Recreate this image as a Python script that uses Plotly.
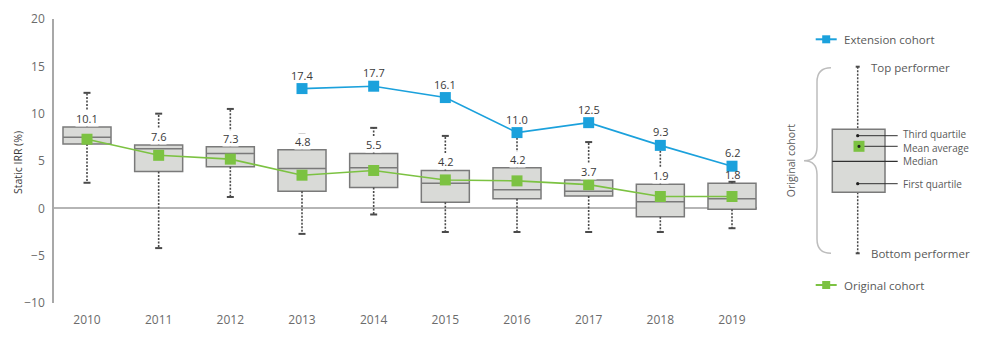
import plotly.graph_objects as go

# ---------------- data ----------------
years = [2010, 2011, 2012, 2013, 2014, 2015, 2016, 2017, 2018, 2019]
top_performer = [12.2, 10.0, 10.5, 7.8, 8.5, 7.65, 7.9, 7.0, 6.5, 2.8]
third_quartile = [8.6, 6.7, 6.5, 6.2, 5.8, 4.0, 4.3, 3.0, 2.55, 2.65]
median = [7.5, 6.3, 5.8, 4.2, 4.3, 2.65, 1.95, 1.8, 0.7, 1.0]
first_quartile = [6.8, 3.9, 4.4, 1.8, 2.2, 0.65, 1.0, 1.3, -0.9, -0.1]
bottom_performer = [2.7, -4.2, 1.2, -2.7, -0.65, -2.5, -2.5, -2.5, -2.5, -2.1]
original_mean = [7.3, 5.6, 5.2, 3.5, 4.0, 3.0, 2.9, 2.5, 1.25, 1.25]
box_labels = ["10.1", "7.6", "7.3", "4.8", "5.5", "4.2", "4.2", "3.7", "1.9", "1.8"]

ext_years = [2013, 2014, 2015, 2016, 2017, 2018, 2019]
ext_values = [12.65, 12.9, 11.7, 8.0, 9.05, 6.65, 4.45]
ext_labels = ["17.4", "17.7", "16.1", "11.0", "12.5", "9.3", "6.2"]

y_ticks = [-10, -5, 0, 5, 10, 15, 20]

# ---------------- styling ----------------
W, H = 993, 351
FONT = "Open Sans"
BLUE = "#1ba1dc"
GREEN = "#7cc242"
BOX_FILL = "#d9dad7"
BOX_LINE = "#7a7a7a"
WHISK = "#4a4a4a"
TXT = "#595959"
LBL = "#3a3a3a"


def X(px):
    return px / W


def Y(py):
    return 1 - py / H


fig = go.Figure()

# boxes (quartiles + median)
fig.add_trace(go.Box(
    x=years, q1=first_quartile, median=median, q3=third_quartile,
    lowerfence=first_quartile, upperfence=third_quartile,
    width=0.67, whiskerwidth=0,
    fillcolor=BOX_FILL, line=dict(color=BOX_LINE, width=1.5),
    boxpoints=False, showlegend=False, hoverinfo="skip",
))

# whiskers (dashed)
wx, wy = [], []
for yr, q1v, q3v, lo, hi in zip(years, first_quartile, third_quartile,
                                bottom_performer, top_performer):
    wx += [yr, yr, None, yr, yr, None]
    wy += [q3v, hi, None, q1v, lo, None]
fig.add_trace(go.Scatter(
    x=wx, y=wy, mode="lines",
    line=dict(color=WHISK, width=1.6, dash="2px,1.5px"),
    showlegend=False, hoverinfo="skip",
))
# whisker caps
fig.add_trace(go.Scatter(
    x=years + years, y=top_performer + bottom_performer, mode="markers",
    marker=dict(symbol="line-ew", size=5, line=dict(color=WHISK, width=2)),
    showlegend=False, hoverinfo="skip",
))

# original cohort mean
fig.add_trace(go.Scatter(
    x=years, y=original_mean, mode="lines+markers", name="Original cohort",
    line=dict(color=GREEN, width=1.6),
    marker=dict(symbol="square", size=11, color=GREEN),
    showlegend=False,
))
# extension cohort
fig.add_trace(go.Scatter(
    x=ext_years, y=ext_values, mode="lines+markers", name="Extension cohort",
    line=dict(color=BLUE, width=1.6),
    marker=dict(symbol="square", size=11, color=BLUE),
    showlegend=False,
))

annotations = []
ext_map = dict(zip(ext_years, ext_values))
for yr, q3v, lab in zip(years, third_quartile, box_labels):
    near_marker = yr in ext_map and ext_map[yr] - q3v < 2.5
    annotations.append(dict(
        x=yr, y=q3v, xref="x", yref="y", text=lab, showarrow=False,
        yanchor="bottom", yshift=0,
        bgcolor="rgba(0,0,0,0)" if near_marker else "white", borderpad=0,
        font=dict(family=FONT, size=11, color=LBL),
    ))
for yr, v, lab in zip(ext_years, ext_values, ext_labels):
    annotations.append(dict(
        x=yr, y=v, xref="x", yref="y", text=lab, showarrow=False,
        yanchor="bottom", yshift=5, borderpad=0,
        font=dict(family=FONT, size=11, color=LBL),
    ))

# y axis title
annotations.append(dict(
    x=X(18), y=Y(163), xref="paper", yref="paper", text="Static IRR (%)",
    textangle=-90, showarrow=False, xanchor="center", yanchor="middle",
    font=dict(family=FONT, size=10.5, color=LBL),
))

# ---------------- legend / key (right side) ----------------
shapes = []
# Extension cohort legend item
shapes.append(dict(type="line", xref="paper", yref="paper",
                   x0=X(815.7), x1=X(836.7), y0=Y(39.3), y1=Y(39.3),
                   line=dict(color=BLUE, width=2)))
shapes.append(dict(type="rect", xref="paper", yref="paper",
                   x0=X(822.2), x1=X(830.2), y0=Y(43.3), y1=Y(35.3),
                   fillcolor=BLUE, line=dict(width=0)))
annotations.append(dict(x=X(842), y=Y(39.3), xref="paper", yref="paper",
                        text="Extension cohort", showarrow=False,
                        xanchor="left", yanchor="middle",
                        font=dict(family=FONT, size=11.5, color=TXT)))
# Original cohort legend item
shapes.append(dict(type="line", xref="paper", yref="paper",
                   x0=X(815.7), x1=X(836.7), y0=Y(285), y1=Y(285),
                   line=dict(color=GREEN, width=2)))
shapes.append(dict(type="rect", xref="paper", yref="paper",
                   x0=X(822.2), x1=X(830.2), y0=Y(289), y1=Y(281),
                   fillcolor=GREEN, line=dict(width=0)))
annotations.append(dict(x=X(842), y=Y(285), xref="paper", yref="paper",
                        text="Original cohort", showarrow=False,
                        xanchor="left", yanchor="middle",
                        font=dict(family=FONT, size=11.5, color=TXT)))

# key: whiskers
cx = 857.7
shapes.append(dict(type="line", xref="paper", yref="paper",
                   x0=X(cx), x1=X(cx), y0=Y(66.7), y1=Y(129.3),
                   line=dict(color=WHISK, width=1.5, dash="2px,1.5px")))
shapes.append(dict(type="line", xref="paper", yref="paper",
                   x0=X(cx), x1=X(cx), y0=Y(192.3), y1=Y(253.3),
                   line=dict(color=WHISK, width=1.5, dash="2px,1.5px")))
for py in (66.7, 253.3):
    shapes.append(dict(type="line", xref="paper", yref="paper",
                       x0=X(cx - 2), x1=X(cx + 2), y0=Y(py), y1=Y(py),
                       line=dict(color=WHISK, width=2)))
# key: box
shapes.append(dict(type="rect", xref="paper", yref="paper",
                   x0=X(832.3), x1=X(885), y0=Y(192.3), y1=Y(129.3),
                   fillcolor=BOX_FILL, line=dict(color=BOX_LINE, width=1.5)))
# median line
shapes.append(dict(type="line", xref="paper", yref="paper",
                   x0=X(832.3), x1=X(897.7), y0=Y(161.3), y1=Y(161.3),
                   line=dict(color="#303030", width=1.3)))
# pointer lines
for py, x_start in ((135.7, cx), (146.3, cx + 6), (183.7, cx)):
    shapes.append(dict(type="line", xref="paper", yref="paper",
                       x0=X(x_start), x1=X(897.7), y0=Y(py), y1=Y(py),
                       line=dict(color="#303030", width=1)))
for py in (135.7, 183.7):
    shapes.append(dict(type="circle", xref="paper", yref="paper",
                       x0=X(cx - 1.6), x1=X(cx + 1.6), y0=Y(py + 1.6), y1=Y(py - 1.6),
                       fillcolor="#202020", line=dict(width=0)))
# mean square
shapes.append(dict(type="rect", xref="paper", yref="paper",
                   x0=X(853.5), x1=X(864.5), y0=Y(151.8), y1=Y(140.8),
                   fillcolor=GREEN, line=dict(width=0)))
shapes.append(dict(type="circle", xref="paper", yref="paper",
                   x0=X(857.4), x1=X(860.6), y0=Y(147.9), y1=Y(144.7),
                   fillcolor="#202020", line=dict(width=0)))

# brace
brace = (
    f"M{X(831)},{Y(67.7)} Q{X(817)},{Y(67.7)} {X(817)},{Y(82)} "
    f"L{X(817)},{Y(147)} Q{X(817)},{Y(160.7)} {X(804)},{Y(160.7)} "
    f"Q{X(817)},{Y(160.7)} {X(817)},{Y(174.5)} "
    f"L{X(817)},{Y(239)} Q{X(817)},{Y(253.3)} {X(831)},{Y(253.3)}"
)
shapes.append(dict(type="path", xref="paper", yref="paper", path=brace,
                   line=dict(color="#bdbdbd", width=1.5)))

key_texts = [
    ("Top performer", 870, 67.7, 11.5),
    ("Bottom performer", 870, 253.3, 11.5),
    ("Third quartile", 902, 134.0, 10),
    ("Mean average", 902, 147.6, 10),
    ("Median", 902, 161.3, 10),
    ("First quartile", 902, 183.7, 10),
]
for t, px, py, fs in key_texts:
    annotations.append(dict(x=X(px), y=Y(py), xref="paper", yref="paper",
                            text=t, showarrow=False, xanchor="left",
                            yanchor="middle", borderpad=0,
                            font=dict(family=FONT, size=fs, color=TXT)))
annotations.append(dict(x=X(791.7), y=Y(160.5), xref="paper", yref="paper",
                        text="Original cohort", showarrow=False, textangle=-90,
                        xanchor="center", yanchor="middle",
                        font=dict(family=FONT, size=10.5, color=TXT)))

fig.update_layout(
    template="none",
    width=W, height=H,
    margin=dict(l=0, r=0, t=0, b=0),
    paper_bgcolor="white", plot_bgcolor="white",
    font=dict(family=FONT, color=TXT),
    showlegend=False,
    xaxis=dict(
        domain=[X(54), X(757)],
        range=[2010 - 33 / 71.67, 2019 + 25 / 71.67],
        tickmode="array", tickvals=years, ticktext=[str(y) for y in years],
        showgrid=False, zeroline=False, showline=False, ticks="",
        tickfont=dict(family=FONT, size=12, color="#6b6b6b"),
        ticklabelstandoff=8, automargin=False,
    ),
    yaxis=dict(
        domain=[Y(303), Y(19)],
        range=[-10, 20],
        tickmode="array", tickvals=y_ticks,
        showgrid=False, zeroline=True, zerolinecolor="#b5b5b5", zerolinewidth=1.5,
        showline=True, linecolor="#a8a8a8", linewidth=1.5, ticks="",
        tickfont=dict(family=FONT, size=12, color="#6b6b6b"),
        ticklabelstandoff=5, automargin=False,
    ),
    shapes=shapes,
    annotations=annotations,
)

fig.write_html("out.html")
